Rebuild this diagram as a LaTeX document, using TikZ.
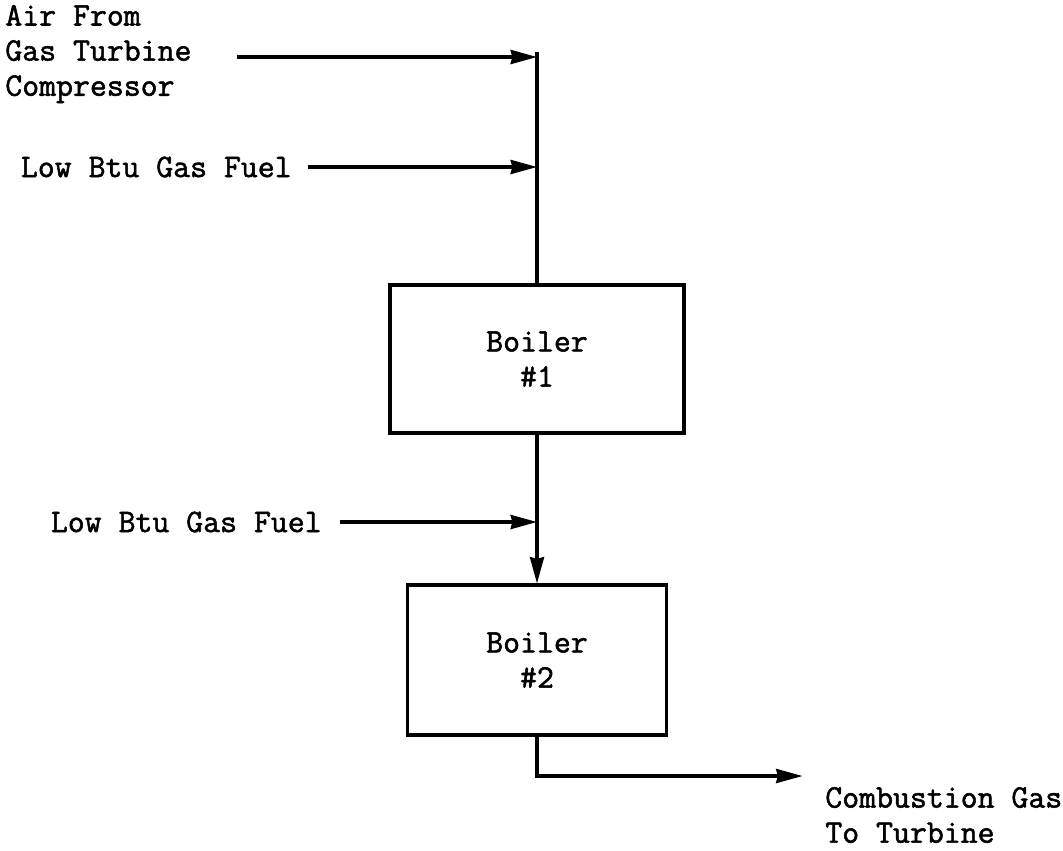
\documentclass[tikz,border=0pt]{standalone}
\usepackage{fontspec}
\setmonofont[FakeBold=1.6]{Latin Modern Mono}
\usetikzlibrary{arrows.meta}

\begin{document}
\begin{tikzpicture}[x=0.02cm, y=-0.02cm, >={Stealth[length=15pt,width=8pt,inset=1pt]},
  every node/.style={font=\ttfamily\fontsize{18.7}{20}\selectfont, inner sep=0pt},
  boiler/.style={draw, line width=1.8pt, align=center},
  pipe/.style={line width=1.8pt}]
  \useasboundingbox (0,0) rectangle (1063,850);

  % Feed streams
  \node[anchor=west, align=left] (air) at (5,54) {Air From\\Gas Turbine\\Compressor};
  \node[anchor=east] (fuelA) at (292,167) {Low Btu Gas Fuel};
  \node[anchor=east] (fuelB) at (322,522) {Low Btu Gas Fuel};

  % Boilers
  \node[boiler, minimum width=5.88cm, minimum height=2.96cm] (boil1) at (537,359) {Boiler\\\#1};
  \node[boiler, minimum width=5.18cm, minimum height=3.0cm] (boil2) at (537,660) {Boiler\\\#2};

  % Outlet
  \node[anchor=west, align=left] (out) at (825,815) {Combustion Gas\\To Turbine};

  % Junction points on the main line
  \coordinate (top) at (537,57);
  \coordinate (jA) at (537,167);
  \coordinate (jB) at (537,522);
  \coordinate (bend) at (537,776);

  % Main line
  \draw[pipe] ([yshift=0.1cm]top) -- (boil1.north);
  \draw[pipe, ->] (boil1.south) -- (boil2.north);
  \draw[pipe, ->] (boil2.south) -- (bend) -- ([xshift=-0.45cm]out.west |- bend);

  % Inlet arrows
  \draw[pipe, ->] ([xshift=0.9cm]air.east |- top) -- (top);
  \draw[pipe, ->] ([xshift=0.32cm]fuelA.east) -- (jA);
  \draw[pipe, ->] ([xshift=0.36cm]fuelB.east) -- (jB);
\end{tikzpicture}
\end{document}
